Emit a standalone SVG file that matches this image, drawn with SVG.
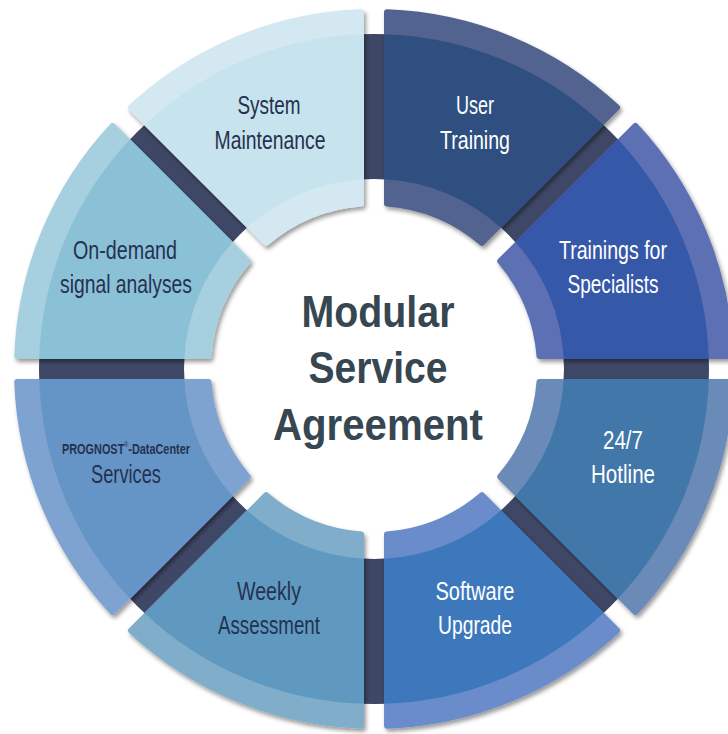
<svg xmlns="http://www.w3.org/2000/svg" width="728" height="734" viewBox="0 0 728 734">
<style>
.lbl{font-family:"Liberation Sans",Arial,sans-serif;font-size:25px;text-anchor:middle}
.dk{fill:#253150}
.wt{fill:#ffffff}
.ctr{font-family:"Liberation Sans",Arial,sans-serif;font-weight:bold;font-size:45px;fill:#364751;text-anchor:middle}
.o{stroke-width:6;stroke-linejoin:round}
.sm{font-family:"Liberation Sans",Arial,sans-serif;font-weight:bold;font-size:14px;fill:#253150}
</style>
<defs>
<filter id="sh" x="-20%" y="-20%" width="140%" height="140%"><feDropShadow dx="2" dy="3" stdDeviation="2" flood-color="#000" flood-opacity="0.4"/></filter>
<path id="outer" d="M165.49,13 L356.76,13 A357,357 0 0 1 261.5,243.04 L126.21,107.82 A166,166 0 0 0 165.49,13 Z"/>
<path id="mid" d="M189.74,10 L334.85,10 A335,335 0 0 1 243.88,229.66 L141.23,127.09 A190,190 0 0 0 189.74,10 Z"/>
</defs>
<rect width="728" height="734" fill="#ffffff"/>
<g id="ring">
<circle cx="374" cy="369" r="262.5" fill="none" stroke="#3e4765" stroke-width="145"/>
</g>
<g id="seg-hotline">
<g filter="url(#sh)"><use href="#outer" class="o" fill="#6b8bb8" stroke="#6b8bb8" transform="translate(374 369) rotate(0)"/><use href="#mid" fill="#4277aa" transform="translate(374 369) rotate(0)"/></g>
<text class="lbl wt" x="623" y="449" textLength="40" lengthAdjust="spacingAndGlyphs">24/7</text>
<text class="lbl wt" x="623" y="483" textLength="64" lengthAdjust="spacingAndGlyphs">Hotline</text>
</g>
<g id="seg-software">
<g filter="url(#sh)"><use href="#outer" class="o" fill="#6a8ccb" stroke="#6a8ccb" transform="translate(374 369) rotate(45)"/><use href="#mid" fill="#3e78bc" transform="translate(374 369) rotate(45)"/></g>
<text class="lbl wt" x="475" y="600" textLength="79" lengthAdjust="spacingAndGlyphs">Software</text>
<text class="lbl wt" x="475" y="634" textLength="74" lengthAdjust="spacingAndGlyphs">Upgrade</text>
</g>
<g id="seg-weekly">
<g filter="url(#sh)"><use href="#outer" class="o" fill="#7fadca" stroke="#7fadca" transform="translate(374 369) rotate(90)"/><use href="#mid" fill="#5f99bf" transform="translate(374 369) rotate(90)"/></g>
<text class="lbl dk" x="269" y="600" textLength="64" lengthAdjust="spacingAndGlyphs">Weekly</text>
<text class="lbl dk" x="269" y="634" textLength="102" lengthAdjust="spacingAndGlyphs">Assessment</text>
</g>
<g id="seg-services">
<g filter="url(#sh)"><use href="#outer" class="o" fill="#7fa3d0" stroke="#7fa3d0" transform="translate(374 369) rotate(135)"/><use href="#mid" fill="#6595c6" transform="translate(374 369) rotate(135)"/></g>
<text class="sm" x="62" y="454" textLength="128" lengthAdjust="spacingAndGlyphs">PROGNOST<tspan style="font-size:7px;font-weight:normal" dy="-7">®</tspan><tspan dy="7">-DataCenter</tspan></text>
<text class="lbl dk" x="126" y="483" textLength="70" lengthAdjust="spacingAndGlyphs">Services</text>
</g>
<g id="seg-ondemand">
<g filter="url(#sh)"><use href="#outer" class="o" fill="#a6cfdf" stroke="#a6cfdf" transform="translate(374 369) rotate(180)"/><use href="#mid" fill="#8bc1d6" transform="translate(374 369) rotate(180)"/></g>
<text class="lbl dk" x="125" y="259" textLength="104" lengthAdjust="spacingAndGlyphs">On-demand</text>
<text class="lbl dk" x="126" y="293" textLength="132" lengthAdjust="spacingAndGlyphs">signal analyses</text>
</g>
<g id="seg-system">
<g filter="url(#sh)"><use href="#outer" class="o" fill="#d3e8f0" stroke="#d3e8f0" transform="translate(374 369) rotate(225)"/><use href="#mid" fill="#c7e3ed" transform="translate(374 369) rotate(225)"/></g>
<text class="lbl dk" x="269" y="114" textLength="63" lengthAdjust="spacingAndGlyphs">System</text>
<text class="lbl dk" x="270" y="149" textLength="111" lengthAdjust="spacingAndGlyphs">Maintenance</text>
</g>
<g id="seg-user">
<g filter="url(#sh)"><use href="#outer" class="o" fill="#53648f" stroke="#53648f" transform="translate(374 369) rotate(270)"/><use href="#mid" fill="#2e4f80" transform="translate(374 369) rotate(270)"/></g>
<text class="lbl wt" x="475" y="114" textLength="38" lengthAdjust="spacingAndGlyphs">User</text>
<text class="lbl wt" x="475" y="149" textLength="70" lengthAdjust="spacingAndGlyphs">Training</text>
</g>
<g id="seg-trainings">
<g filter="url(#sh)"><use href="#outer" class="o" fill="#5d70b4" stroke="#5d70b4" transform="translate(374 369) rotate(315)"/><use href="#mid" fill="#3559a8" transform="translate(374 369) rotate(315)"/></g>
<text class="lbl wt" x="613" y="259" textLength="108" lengthAdjust="spacingAndGlyphs">Trainings for</text>
<text class="lbl wt" x="613" y="293" textLength="91" lengthAdjust="spacingAndGlyphs">Specialists</text>
</g>
<g id="center">
<text class="ctr" x="378" y="327" textLength="153" lengthAdjust="spacingAndGlyphs">Modular</text>
<text class="ctr" x="378" y="383" textLength="139" lengthAdjust="spacingAndGlyphs">Service</text>
<text class="ctr" x="378" y="440" textLength="210" lengthAdjust="spacingAndGlyphs">Agreement</text>
</g>
<g id="connectors"/>
</svg>
